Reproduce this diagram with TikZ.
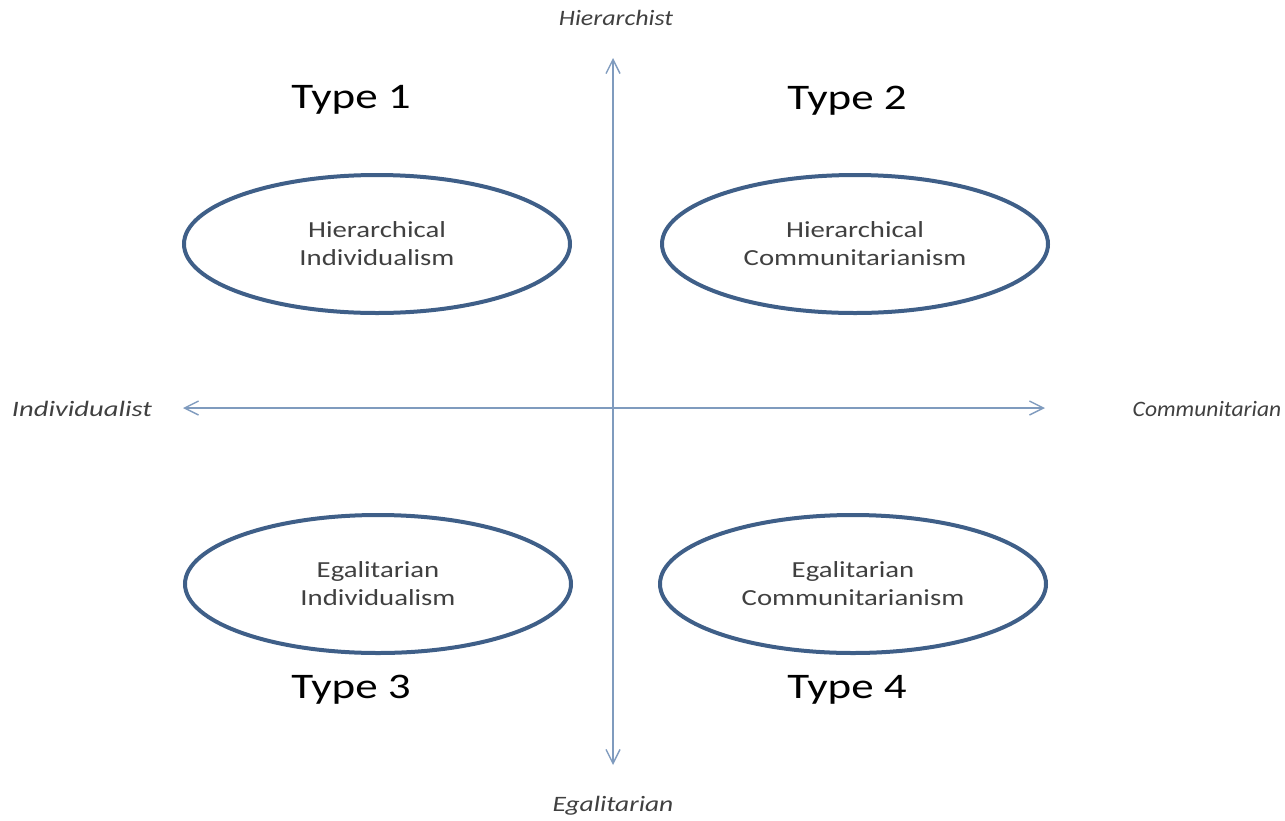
\documentclass[tikz,border=0pt]{standalone}
\usepackage{fontspec}
\setmainfont{Carlito}
\usetikzlibrary{shapes.geometric,arrows.meta}

\definecolor{axisblue}{HTML}{7F9BBE}
\definecolor{ringblue}{HTML}{3F5F88}
\definecolor{textgray}{HTML}{404040}
\newcommand{\wide}[2][1.25]{\scalebox{#1}[1]{#2}}

\begin{document}
\begin{tikzpicture}[x=1pt,y=-1pt,
  axis/.style={draw=axisblue,line width=1.4pt,
    arrows={Straight Barb[length=14pt,width=14pt,line width=1.4pt]-Straight Barb[length=14pt,width=14pt,line width=1.4pt]}},
  ring/.style={ellipse,draw=ringblue,line width=4pt,minimum width=386pt,minimum height=138pt,
    align=center,text=textgray,font=\fontsize{23}{28}\selectfont},
  pole/.style={text=textgray,font=\fontsize{22}{26}\selectfont\itshape},
  typelabel/.style={font=\fontsize{36}{40}\selectfont}]
  \useasboundingbox (0,0) rectangle (1285,820);
  % axes
  \coordinate (top) at (613,58);
  \coordinate (bottom) at (613,765);
  \coordinate (left) at (183,408);
  \coordinate (right) at (1045,408);
  \draw[axis] (bottom) -- (top);
  \draw[axis] (left) -- (right);
  % poles
  \node[pole] (hierarchist) at (616,18) {\wide[1.18]{Hierarchist}};
  \node[pole] (egalitarian) at (613,806) {\wide{Egalitarian}};
  \node[pole] (individualist) at (82,409) {\wide[1.3]{Individualist}};
  \node[pole] (communitarian) at (1207,409) {\wide[1.07]{Communitarian}};
  % ellipses
  \node[ring] (hi) at (377,244) {\wide{Hierarchical}\\\wide{Individualism}};
  \node[ring] (hc) at (855,244) {\wide{Hierarchical}\\\wide{Communitarianism}};
  \node[ring] (ei) at (378,584) {\wide{Egalitarian}\\\wide{Individualism}};
  \node[ring] (ec) at (853,584) {\wide{Egalitarian}\\\wide{Communitarianism}};
  % types
  \node[typelabel] (type1) at (351,100) {\wide{Type 1}};
  \node[typelabel] (type2) at (847,101) {\wide{Type 2}};
  \node[typelabel] (type3) at (351,690) {\wide{Type 3}};
  \node[typelabel] (type4) at (847,690) {\wide{Type 4}};
\end{tikzpicture}
\end{document}
